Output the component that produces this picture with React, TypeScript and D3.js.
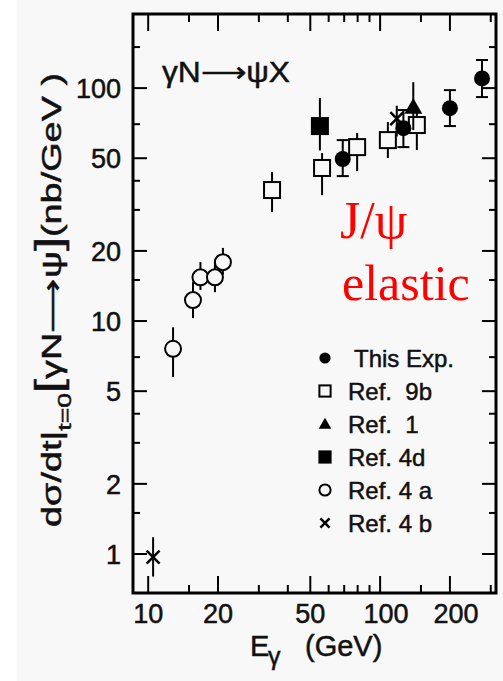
import { useEffect, useRef } from "react";
import * as d3 from "d3";

const W = 503;
const H = 681;

// This Exp. (filled circles): E_gamma (GeV), dsigma/dt (nb/GeV), error low/high
const thisExpEnergy = [69, 126, 200, 275];
const thisExpValue = [49.6, 67.3, 82, 110];
const thisExpLow = [41.9, 55.8, 68.7, 91.5];
const thisExpHigh = [59.8, 80.5, 98, 132];

// Ref. 9b (open squares)
const ref9bEnergy = [34.2, 56.2, 79.6, 108, 144];
const ref9bValue = [36.5, 45.4, 55.8, 59.8, 69.4];
const ref9bLow = [29.4, 34.7, 44, 50.1, 54.2];
const ref9bHigh = [43.6, 52.6, 64.1, 71.5, 78.1];

// Ref. 1 (filled triangle)
const ref1Energy = [139];
const ref1Value = [82.9];
const ref1Low = [66];
const ref1High = [106];

// Ref. 4d (filled square)
const ref4dEnergy = [55];
const ref4dValue = [68.7];
const ref4dLow = [54];
const ref4dHigh = [90.6];

// Ref. 4a (open circles)
const ref4aEnergy = [12.8, 15.6, 16.8, 19.4, 21.0];
const ref4aValue = [7.6, 12.3, 15.4, 15.4, 17.9];
const ref4aLow = [5.75, 10.3, 13.6, 13.3, 15.8];
const ref4aHigh = [9.4, 14.7, 17.9, 17.9, 20.6];

// Ref. 4b (crosses)
const ref4bEnergy = [10.5, 118];
const ref4bValue = [0.97, 74];
const ref4bLow = [0.8, 62];
const ref4bHigh = [1.18, 84];

const xTicks = [10, 20, 50, 100, 200];
const xMinorTicks = [15, 30, 40, 60, 70, 80, 90, 150, 300];
const yTicks = [1, 2, 5, 10, 20, 50, 100];
const yMinorTicks = [1.5, 3, 4, 7, 15, 30, 40, 70, 150];

const legendLabels = ["This Exp.", "Ref.  9b", "Ref.  1", "Ref. 4d", "Ref. 4 a", "Ref. 4 b"];
const legendMarkers = ["dot", "openSquare", "triangle", "square", "openCircle", "cross"];

const BG = "#f8f8f8";
const SANS = "'Liberation Sans', Arial, Helvetica, sans-serif";
const INK = "#111";

function drawMarker(g: any, kind: string, cx: number, cy: number, s: number) {
  if (kind === "dot") {
    g.append("circle").attr("cx", cx).attr("cy", cy).attr("r", 8 * s).attr("fill", "#000");
  } else if (kind === "openCircle") {
    g.append("circle").attr("cx", cx).attr("cy", cy).attr("r", 8 * s)
      .attr("fill", BG).attr("stroke", "#000").attr("stroke-width", 2);
  } else if (kind === "openSquare" || kind === "square") {
    const h = 8 * s;
    g.append("rect").attr("x", cx - h).attr("y", cy - h).attr("width", 2 * h).attr("height", 2 * h)
      .attr("fill", kind === "square" ? "#000" : BG).attr("stroke", "#000").attr("stroke-width", 2);
  } else if (kind === "triangle") {
    const h = 9 * s;
    g.append("path")
      .attr("d", `M${cx},${cy - h}L${cx + h},${cy + h * 0.75}L${cx - h},${cy + h * 0.75}Z`)
      .attr("fill", "#000");
  } else if (kind === "cross") {
    const h = 6.5 * s;
    g.append("path")
      .attr("d", `M${cx - h},${cy - h}L${cx + h},${cy + h}M${cx - h},${cy + h}L${cx + h},${cy - h}`)
      .attr("stroke", "#000").attr("stroke-width", 2.5).attr("fill", "none");
  }
}

const App = () => {
  const ref = useRef<SVGSVGElement | null>(null);

  useEffect(() => {
    const svg = d3.select(ref.current);
    svg.selectAll("*").remove();

    const left = 133, right = 496, top = 14, bottom = 593;

    const x = d3.scaleLog().domain([8.6, 316]).range([left, right]);
    const y = d3.scaleLog().domain([0.68, 208]).range([bottom, top]);

    // page background
    svg.append("rect").attr("x", 17).attr("y", 0).attr("width", W - 17).attr("height", H).attr("fill", BG);

    // ticks on all four sides, pointing inward
    const ticks = svg.append("g").attr("stroke", "#000").attr("stroke-width", 2);
    const tickSets: [number[], number][] = [[xTicks, 17], [xMinorTicks, 8]];
    tickSets.forEach(([vals, len]) => {
      vals.forEach(v => {
        ticks.append("line").attr("x1", x(v)).attr("x2", x(v)).attr("y1", bottom).attr("y2", bottom - len);
        ticks.append("line").attr("x1", x(v)).attr("x2", x(v)).attr("y1", top).attr("y2", top + len);
      });
    });
    const yTickSets: [number[], number][] = [[yTicks, 14], [yMinorTicks, 7]];
    yTickSets.forEach(([vals, len]) => {
      vals.forEach(v => {
        ticks.append("line").attr("x1", left).attr("x2", left + len).attr("y1", y(v)).attr("y2", y(v));
        ticks.append("line").attr("x1", right).attr("x2", right - len).attr("y1", y(v)).attr("y2", y(v));
      });
    });

    // frame
    svg.append("rect")
      .attr("x", left).attr("y", top)
      .attr("width", right - left).attr("height", bottom - top)
      .attr("fill", "none").attr("stroke", "#000").attr("stroke-width", 3);

    // all black labels share a slightly heavy, scanned-looking ink
    const labels = svg.append("g")
      .attr("font-family", SANS).attr("fill", INK)
      .attr("stroke", INK).attr("stroke-width", 0.5);

    // tick labels
    labels.append("g").selectAll("text").data(yTicks).enter().append("text")
      .attr("x", 121).attr("y", d => y(d))
      .attr("dy", "0.36em")
      .attr("text-anchor", "end")
      .attr("font-size", 27)
      .text(d => String(d));

    labels.append("g").selectAll("text").data(xTicks).enter().append("text")
      .attr("x", d => x(d) + (d >= 100 ? 6 : 0)).attr("y", 623)
      .attr("text-anchor", "middle")
      .attr("font-size", 27)
      .text(d => String(d));

    // series
    const series = [
      { kind: "openCircle", E: ref4aEnergy, V: ref4aValue, lo: ref4aLow, hi: ref4aHigh, caps: false },
      { kind: "cross", E: ref4bEnergy, V: ref4bValue, lo: ref4bLow, hi: ref4bHigh, caps: false },
      { kind: "openSquare", E: ref9bEnergy, V: ref9bValue, lo: ref9bLow, hi: ref9bHigh, caps: false },
      { kind: "square", E: ref4dEnergy, V: ref4dValue, lo: ref4dLow, hi: ref4dHigh, caps: false },
      { kind: "triangle", E: ref1Energy, V: ref1Value, lo: ref1Low, hi: ref1High, caps: false },
      { kind: "dot", E: thisExpEnergy, V: thisExpValue, lo: thisExpLow, hi: thisExpHigh, caps: true },
    ];

    const marks = svg.append("g");
    series.forEach(s => {
      s.E.forEach((e, i) => {
        const cx = x(e);
        marks.append("line")
          .attr("x1", cx).attr("x2", cx)
          .attr("y1", y(s.hi[i])).attr("y2", y(s.lo[i]))
          .attr("stroke", "#000").attr("stroke-width", 2);
        if (s.caps) {
          [s.hi[i], s.lo[i]].forEach(v => {
            marks.append("line")
              .attr("x1", cx - 6).attr("x2", cx + 6)
              .attr("y1", y(v)).attr("y2", y(v))
              .attr("stroke", "#000").attr("stroke-width", 2);
          });
        }
        drawMarker(marks, s.kind, cx, y(s.V[i]), 1);
      });
    });

    // legend
    const legend = svg.append("g");
    legendLabels.forEach((label, i) => {
      const ly = 358 + i * 33;
      drawMarker(legend, legendMarkers[i], 325, ly, 0.7);
      labels.append("text")
        .attr("x", i === 0 ? 354 : 348).attr("y", ly)
        .attr("dy", "0.36em")
        .attr("font-size", 24)
        .style("white-space", "pre")
        .text(label);
    });

    // reaction label
    labels.append("text")
      .attr("x", 162).attr("y", 82)
      .attr("font-size", 30)
      .attr("textLength", 128).attr("lengthAdjust", "spacingAndGlyphs")
      .text("γN⟶ψX");

    // red annotation
    svg.append("text")
      .attr("x", 340).attr("y", 238)
      .attr("font-family", "'Liberation Serif', 'Times New Roman', serif")
      .attr("font-size", 52).attr("fill", "#ff0000")
      .text("J/ψ");
    svg.append("text")
      .attr("x", 342).attr("y", 300)
      .attr("font-family", "'Liberation Serif', 'Times New Roman', serif")
      .attr("font-size", 50).attr("fill", "#ff0000")
      .text("elastic");

    // x axis title
    const xl = labels.append("text")
      .attr("y", 656)
      .attr("font-size", 29);
    xl.append("tspan").attr("x", 250).text("E");
    xl.append("tspan").attr("x", 268).attr("dy", 9).attr("font-size", 25).text("γ");
    xl.append("tspan").attr("x", 305).attr("dy", -9).text("(GeV)");

    // y axis title
    const yl = labels.append("text")
      .attr("transform", "translate(61,527) rotate(-90)")
      .attr("font-size", 27)
      .attr("textLength", 454).attr("lengthAdjust", "spacingAndGlyphs");
    yl.append("tspan").text("dσ/dt|");
    yl.append("tspan").attr("dy", 10).attr("font-size", 19).text("t=0");
    yl.append("tspan").attr("dy", -10).attr("font-size", 36).text("[");
    yl.append("tspan").text("γN⟶ψ");
    yl.append("tspan").attr("font-size", 36).text("]");
    yl.append("tspan").text("(nb/GeV )");
  }, []);

  return (
    <svg
      ref={ref}
      width={W}
      height={H}
      style={{ position: "absolute", left: 0, top: 0, background: "#fff" }}
    />
  );
};

export default App;
